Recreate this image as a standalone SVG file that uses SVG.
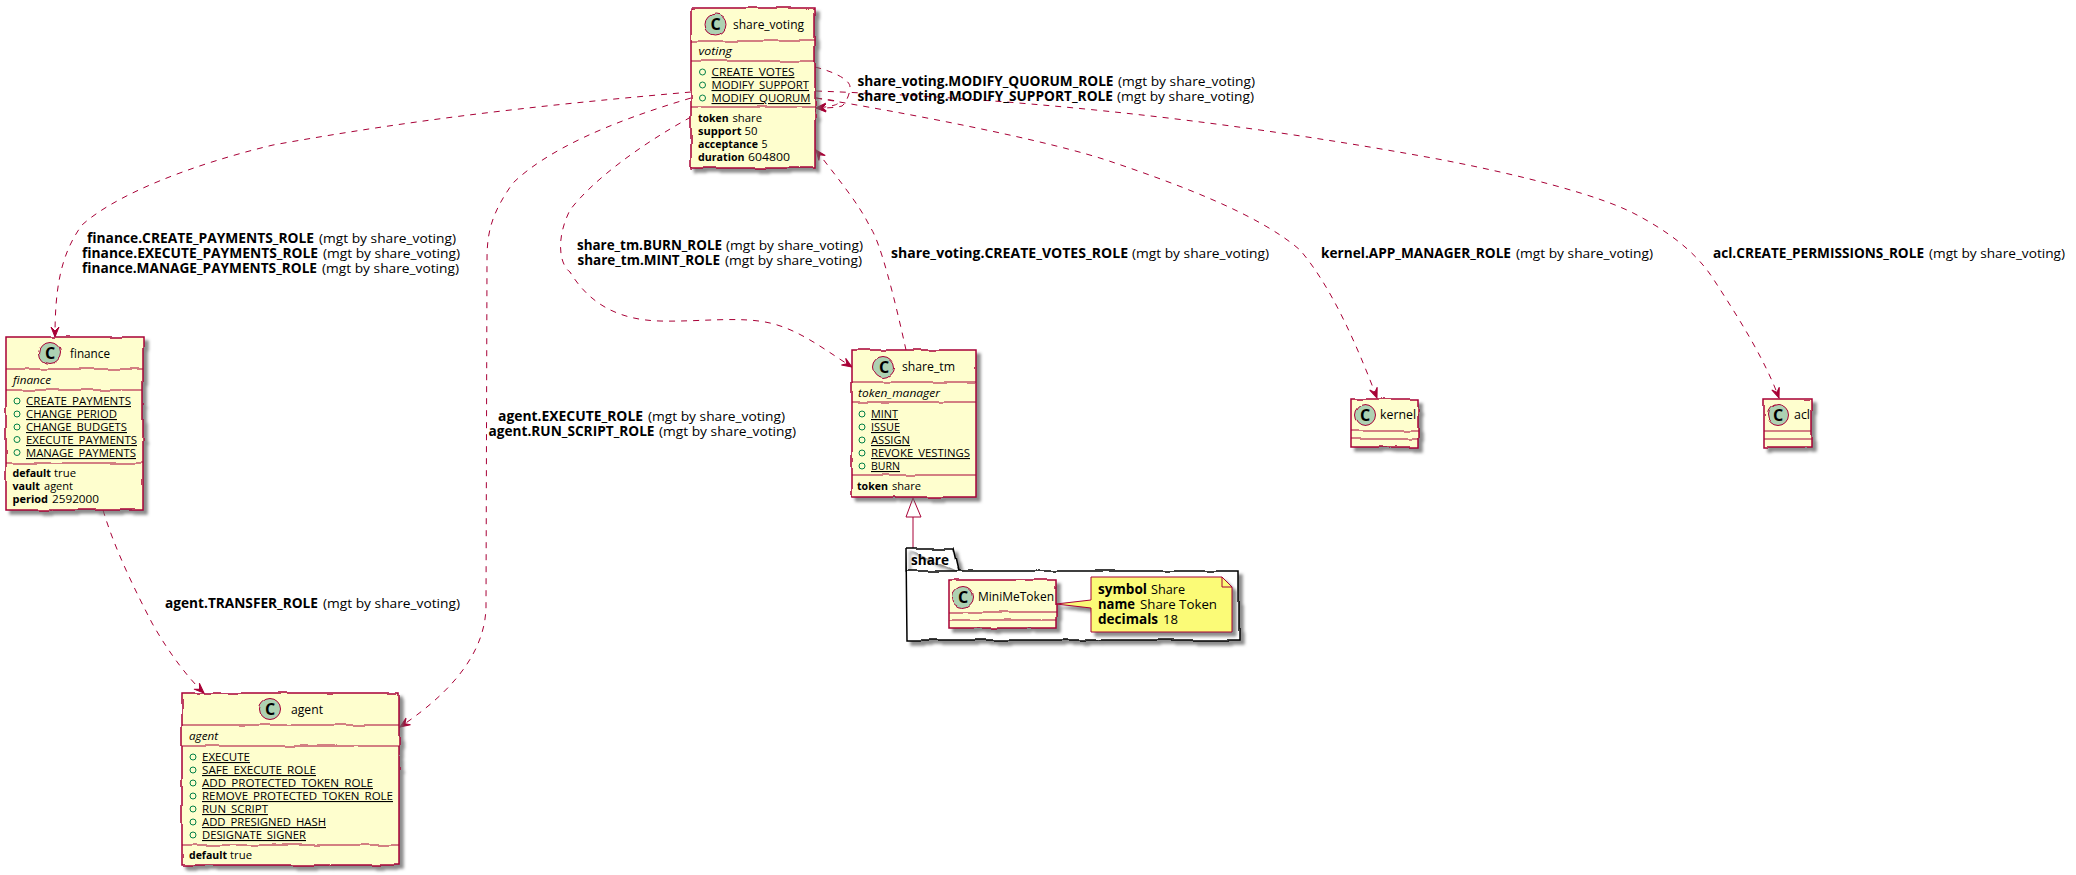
<svg xmlns="http://www.w3.org/2000/svg" width="2076" height="875" viewBox="0 0 2076 875">
<style>
text{font-family:"Open Sans","Noto Sans","DejaVu Sans",sans-serif;fill:#000}
.m{font-size:11px}
.t{font-size:13px}
.l{font-size:13.5px}
.b{font-weight:700}
.i{font-style:italic}
.u{text-decoration:underline}
.box{fill:#FEFECE;stroke:#A80036;stroke-width:1.5}
.sep{fill:none;stroke:#A80036;stroke-width:1.2}
.cir{fill:#ADD1B2;stroke:#A80036;stroke-width:1}
.vis{fill:none;stroke:#038048;stroke-width:1}
.C{font-size:16px;font-weight:700;text-anchor:middle}
.pk{fill:#fff;stroke:#000;stroke-width:1.5}
.nt{fill:#FBFB77;stroke:#A80036;stroke-width:1}
.d{fill:none;stroke:#A80036;stroke-width:1;stroke-dasharray:6 6;marker-end:url(#a)}
.s{fill:none;stroke:#A80036;stroke-width:1}
</style>
<defs>
<marker id="a" markerUnits="userSpaceOnUse" markerWidth="14" markerHeight="12" refX="12" refY="6" orient="auto" overflow="visible"><path d="M12,6 L2,2 L6,6 L2,10 Z" fill="#A80036" stroke="#A80036"/></marker>
<filter id="h" x="-15%" y="-15%" width="135%" height="135%" color-interpolation-filters="sRGB">
<feTurbulence type="fractalNoise" baseFrequency="0.04" numOctaves="2" seed="4" result="n"/>
<feDisplacementMap in="SourceGraphic" in2="n" scale="3.5" xChannelSelector="R" yChannelSelector="G" result="d"/>
<feGaussianBlur in="d" stdDeviation="1.6"/><feOffset dx="4" dy="4"/>
<feColorMatrix type="matrix" values="0 0 0 0 .4 0 0 0 0 .4 0 0 0 0 .4 0 0 0 .75 0" result="sh"/>
<feMerge><feMergeNode in="sh"/><feMergeNode in="d"/></feMerge>
</filter>
<filter id="sd" x="-10%" y="-15%" width="125%" height="135%" color-interpolation-filters="sRGB">
<feGaussianBlur in="SourceAlpha" stdDeviation="1.6"/><feOffset dx="4" dy="4"/>
<feColorMatrix type="matrix" values="0 0 0 0 .4 0 0 0 0 .4 0 0 0 0 .4 0 0 0 .75 0" result="sh"/>
<feMerge><feMergeNode in="sh"/><feMergeNode in="SourceGraphic"/></feMerge>
</filter>
</defs>
<rect width="2076" height="875" fill="#fff"/>

<g id="connectors">
<path class="d" d="M691,92 C520,107 407,121 273,145 C190,165 115,195 82,225 C60,255 55,290 55,337"/>
<path class="d" d="M691,98 C610,122 547,150 513,183 C490,215 487,235 487,260 L486,607 C485,660 440,700 400,727"/>
<path class="d" d="M691,117 C640,145 593,180 570,210 C555,240 560,265 570,272 C590,305 620,320 660,321 C700,322 740,316 770,323 C800,330 825,350 852,367"/>
<path class="d" d="M906,350 C895,300 880,240 870,227 C860,205 835,175 816,150"/>
<path class="d" d="M815,67 C835,72 850,80 850,87 C850,95 845,104 842,106 C835,108 825,108 816,108"/>
<path class="d" d="M816,98 C828,100 838,100 838,103 C838,105 828,107 816,108"/>
<path class="d" d="M816,91 C1000,98 1200,115 1443,160 C1520,175 1600,195 1637,215 C1665,230 1695,250 1714,280 C1740,320 1765,360 1779,398"/>
<path class="d" d="M816,98 C900,112 1050,140 1115,163 C1180,185 1260,215 1300,250 C1330,285 1355,340 1377,398"/>
<path class="d" d="M103,510 C115,550 135,590 152,623 C170,655 190,680 204,693"/>
<path class="s" d="M913,517 L913,549"/>
<path class="s" d="M913,498 L906,517 L921,517 Z" style="fill:#fff"/>
</g>

<g id="labels">
<text class="l" y="86"><tspan class="b" x="857.5" textLength="256" lengthAdjust="spacingAndGlyphs">share_voting.MODIFY_QUORUM_ROLE</tspan><tspan x="1118" textLength="137" lengthAdjust="spacingAndGlyphs">(mgt by share_voting)</tspan></text>
<text class="l" y="101"><tspan class="b" x="857.5" textLength="255.5" lengthAdjust="spacingAndGlyphs">share_voting.MODIFY_SUPPORT_ROLE</tspan><tspan x="1117" textLength="137" lengthAdjust="spacingAndGlyphs">(mgt by share_voting)</tspan></text>
<text class="l" y="243"><tspan class="b" x="87" textLength="227" lengthAdjust="spacingAndGlyphs">finance.CREATE_PAYMENTS_ROLE</tspan><tspan x="319" textLength="137" lengthAdjust="spacingAndGlyphs">(mgt by share_voting)</tspan></text>
<text class="l" y="258"><tspan class="b" x="82" textLength="236" lengthAdjust="spacingAndGlyphs">finance.EXECUTE_PAYMENTS_ROLE</tspan><tspan x="323" textLength="137" lengthAdjust="spacingAndGlyphs">(mgt by share_voting)</tspan></text>
<text class="l" y="273"><tspan class="b" x="82" textLength="235" lengthAdjust="spacingAndGlyphs">finance.MANAGE_PAYMENTS_ROLE</tspan><tspan x="322" textLength="137" lengthAdjust="spacingAndGlyphs">(mgt by share_voting)</tspan></text>
<text class="l" y="250"><tspan class="b" x="577" textLength="145" lengthAdjust="spacingAndGlyphs">share_tm.BURN_ROLE</tspan><tspan x="726" textLength="137" lengthAdjust="spacingAndGlyphs">(mgt by share_voting)</tspan></text>
<text class="l" y="265"><tspan class="b" x="577.5" textLength="142.5" lengthAdjust="spacingAndGlyphs">share_tm.MINT_ROLE</tspan><tspan x="725" textLength="137" lengthAdjust="spacingAndGlyphs">(mgt by share_voting)</tspan></text>
<text class="l" y="258"><tspan class="b" x="891" textLength="237" lengthAdjust="spacingAndGlyphs">share_voting.CREATE_VOTES_ROLE</tspan><tspan x="1132" textLength="137" lengthAdjust="spacingAndGlyphs">(mgt by share_voting)</tspan></text>
<text class="l" y="258"><tspan class="b" x="1321" textLength="190" lengthAdjust="spacingAndGlyphs">kernel.APP_MANAGER_ROLE</tspan><tspan x="1516" textLength="137" lengthAdjust="spacingAndGlyphs">(mgt by share_voting)</tspan></text>
<text class="l" y="258"><tspan class="b" x="1713" textLength="211" lengthAdjust="spacingAndGlyphs">acl.CREATE_PERMISSIONS_ROLE</tspan><tspan x="1929" textLength="136" lengthAdjust="spacingAndGlyphs">(mgt by share_voting)</tspan></text>
<text class="l" y="421"><tspan class="b" x="498" textLength="145" lengthAdjust="spacingAndGlyphs">agent.EXECUTE_ROLE</tspan><tspan x="648" textLength="137" lengthAdjust="spacingAndGlyphs">(mgt by share_voting)</tspan></text>
<text class="l" y="436"><tspan class="b" x="488.5" textLength="166" lengthAdjust="spacingAndGlyphs">agent.RUN_SCRIPT_ROLE</tspan><tspan x="659" textLength="137" lengthAdjust="spacingAndGlyphs">(mgt by share_voting)</tspan></text>
<text class="l" y="608"><tspan class="b" x="165" textLength="153" lengthAdjust="spacingAndGlyphs">agent.TRANSFER_ROLE</tspan><tspan x="323" textLength="137" lengthAdjust="spacingAndGlyphs">(mgt by share_voting)</tspan></text>
</g>

<g id="share_voting">
<g filter="url(#h)"><rect class="box" x="691" y="8" width="124" height="160"/><path class="sep" d="M691,41H815M691,61H815M691,107H815"/><circle class="cir" cx="715.5" cy="24.5" r="10.5"/></g>
<text class="C" x="715.5" y="30">C</text>
<text class="t" x="733" y="29" textLength="71" lengthAdjust="spacingAndGlyphs">share_voting</text>
<text class="m i" x="698.5" y="55" textLength="33.5" lengthAdjust="spacingAndGlyphs">voting</text>
<g class="vis"><circle cx="702.5" cy="72" r="3"/><circle cx="702.5" cy="85" r="3"/><circle cx="702.5" cy="98" r="3"/></g>
<text class="m u" x="711.5" y="76" textLength="83" lengthAdjust="spacingAndGlyphs">CREATE_VOTES</text>
<text class="m u" x="711.5" y="89" textLength="97.5" lengthAdjust="spacingAndGlyphs">MODIFY_SUPPORT</text>
<text class="m u" x="711.5" y="102" textLength="99" lengthAdjust="spacingAndGlyphs">MODIFY_QUORUM</text>
<text class="m" y="122"><tspan class="b" x="698" textLength="30.5" lengthAdjust="spacingAndGlyphs">token</tspan><tspan x="732.5" textLength="29.5" lengthAdjust="spacingAndGlyphs">share</tspan></text>
<text class="m" y="135"><tspan class="b" x="698" textLength="43.5" lengthAdjust="spacingAndGlyphs">support</tspan><tspan x="744.5" textLength="13" lengthAdjust="spacingAndGlyphs">50</tspan></text>
<text class="m" y="148"><tspan class="b" x="698" textLength="60" lengthAdjust="spacingAndGlyphs">acceptance</tspan><tspan x="761.5" textLength="6" lengthAdjust="spacingAndGlyphs">5</tspan></text>
<text class="m" y="161"><tspan class="b" x="698" textLength="46.5" lengthAdjust="spacingAndGlyphs">duration</tspan><tspan x="748" textLength="42" lengthAdjust="spacingAndGlyphs">604800</tspan></text>
</g>

<g id="finance">
<g filter="url(#h)"><rect class="box" x="6" y="337" width="137" height="173"/><path class="sep" d="M6,369H143M6,390H143M6,463H143"/><circle class="cir" cx="50" cy="353" r="10.5"/></g>
<text class="C" x="50" y="358.5">C</text>
<text class="t" x="70" y="358" textLength="40" lengthAdjust="spacingAndGlyphs">finance</text>
<text class="m i" x="13" y="384" textLength="38" lengthAdjust="spacingAndGlyphs">finance</text>
<g class="vis"><circle cx="17" cy="401" r="3"/><circle cx="17" cy="414" r="3"/><circle cx="17" cy="427" r="3"/><circle cx="17" cy="439.5" r="3"/><circle cx="17" cy="452.5" r="3"/></g>
<text class="m u" x="26" y="405" textLength="105" lengthAdjust="spacingAndGlyphs">CREATE_PAYMENTS</text>
<text class="m u" x="26" y="418" textLength="91" lengthAdjust="spacingAndGlyphs">CHANGE_PERIOD</text>
<text class="m u" x="26" y="431" textLength="101" lengthAdjust="spacingAndGlyphs">CHANGE_BUDGETS</text>
<text class="m u" x="26" y="444" textLength="111" lengthAdjust="spacingAndGlyphs">EXECUTE_PAYMENTS</text>
<text class="m u" x="26" y="457" textLength="110" lengthAdjust="spacingAndGlyphs">MANAGE_PAYMENTS</text>
<text class="m" y="477"><tspan class="b" x="12.5" textLength="38.5" lengthAdjust="spacingAndGlyphs">default</tspan><tspan x="54" textLength="22" lengthAdjust="spacingAndGlyphs">true</tspan></text>
<text class="m" y="490"><tspan class="b" x="12.5" textLength="27.5" lengthAdjust="spacingAndGlyphs">vault</tspan><tspan x="44" textLength="29" lengthAdjust="spacingAndGlyphs">agent</tspan></text>
<text class="m" y="503"><tspan class="b" x="12.5" textLength="35.5" lengthAdjust="spacingAndGlyphs">period</tspan><tspan x="52" textLength="47" lengthAdjust="spacingAndGlyphs">2592000</tspan></text>
</g>

<g id="agent">
<g filter="url(#h)"><rect class="box" x="182" y="693" width="217" height="172"/><path class="sep" d="M182,725H399M182,746H399M182,845H399"/><circle class="cir" cx="270" cy="709" r="10.5"/></g>
<text class="C" x="270" y="714.5">C</text>
<text class="t" x="291" y="714" textLength="32" lengthAdjust="spacingAndGlyphs">agent</text>
<text class="m i" x="189" y="740" textLength="29" lengthAdjust="spacingAndGlyphs">agent</text>
<g class="vis"><circle cx="193" cy="757" r="3"/><circle cx="193" cy="770" r="3"/><circle cx="193" cy="783" r="3"/><circle cx="193" cy="796" r="3"/><circle cx="193" cy="809" r="3"/><circle cx="193" cy="822" r="3"/><circle cx="193" cy="835" r="3"/></g>
<text class="m u" x="202" y="761" textLength="48" lengthAdjust="spacingAndGlyphs">EXECUTE</text>
<text class="m u" x="202" y="774" textLength="114" lengthAdjust="spacingAndGlyphs">SAFE_EXECUTE_ROLE</text>
<text class="m u" x="202" y="787" textLength="171" lengthAdjust="spacingAndGlyphs">ADD_PROTECTED_TOKEN_ROLE</text>
<text class="m u" x="202" y="800" textLength="191" lengthAdjust="spacingAndGlyphs">REMOVE_PROTECTED_TOKEN_ROLE</text>
<text class="m u" x="202" y="813" textLength="66" lengthAdjust="spacingAndGlyphs">RUN_SCRIPT</text>
<text class="m u" x="202" y="826" textLength="124" lengthAdjust="spacingAndGlyphs">ADD_PRESIGNED_HASH</text>
<text class="m u" x="202" y="839" textLength="104" lengthAdjust="spacingAndGlyphs">DESIGNATE_SIGNER</text>
<text class="m" y="859"><tspan class="b" x="189" textLength="38" lengthAdjust="spacingAndGlyphs">default</tspan><tspan x="230" textLength="22" lengthAdjust="spacingAndGlyphs">true</tspan></text>
</g>

<g id="share_tm">
<g filter="url(#h)"><rect class="box" x="852" y="350" width="124" height="147"/><path class="sep" d="M852,382H976M852,402H976M852,475H976"/><circle class="cir" cx="884" cy="367" r="10.5"/></g>
<text class="C" x="884" y="372.5">C</text>
<text class="t" x="902" y="371" textLength="53" lengthAdjust="spacingAndGlyphs">share_tm</text>
<text class="m i" x="858" y="397" textLength="82" lengthAdjust="spacingAndGlyphs">token_manager</text>
<g class="vis"><circle cx="862" cy="414" r="3"/><circle cx="862" cy="427" r="3"/><circle cx="862" cy="440" r="3"/><circle cx="862" cy="453" r="3"/><circle cx="862" cy="466" r="3"/></g>
<text class="m u" x="871" y="418" textLength="27" lengthAdjust="spacingAndGlyphs">MINT</text>
<text class="m u" x="871" y="431" textLength="29" lengthAdjust="spacingAndGlyphs">ISSUE</text>
<text class="m u" x="871" y="444" textLength="39" lengthAdjust="spacingAndGlyphs">ASSIGN</text>
<text class="m u" x="871" y="457" textLength="99" lengthAdjust="spacingAndGlyphs">REVOKE_VESTINGS</text>
<text class="m u" x="871" y="470" textLength="29" lengthAdjust="spacingAndGlyphs">BURN</text>
<text class="m" y="490"><tspan class="b" x="857" textLength="31" lengthAdjust="spacingAndGlyphs">token</tspan><tspan x="892" textLength="29" lengthAdjust="spacingAndGlyphs">share</tspan></text>
</g>

<g id="share">
<g filter="url(#h)"><path class="pk" d="M906,549 H953 L958,571 H1239 V640 H907 Z M906,549 V571 H958"/></g>
<text class="b" x="911" y="565" font-size="15" textLength="38" lengthAdjust="spacingAndGlyphs">share</text>
</g>

<g id="MiniMeToken">
<g filter="url(#h)"><rect class="box" x="949" y="580" width="107" height="48"/><path class="sep" d="M949,612H1056M949,620H1056"/><circle class="cir" cx="963" cy="597" r="10.5"/></g>
<text class="C" x="963" y="602.5">C</text>
<text class="t" x="978" y="601" textLength="76" lengthAdjust="spacingAndGlyphs">MiniMeToken</text>
</g>

<g id="note">
<g filter="url(#sd)"><path class="nt" d="M1056,604 L1091,600 V577 H1222 L1232,587 V632 H1091 V608 Z"/></g>
<path class="s" d="M1222,577 V587 H1232"/>
<text class="l" y="594"><tspan class="b" x="1098" textLength="49" lengthAdjust="spacingAndGlyphs">symbol</tspan><tspan x="1151" textLength="34" lengthAdjust="spacingAndGlyphs">Share</tspan></text>
<text class="l" y="609"><tspan class="b" x="1098" textLength="37" lengthAdjust="spacingAndGlyphs">name</tspan><tspan x="1140" textLength="77" lengthAdjust="spacingAndGlyphs">Share Token</tspan></text>
<text class="l" y="624"><tspan class="b" x="1098" textLength="60" lengthAdjust="spacingAndGlyphs">decimals</tspan><tspan x="1163" textLength="15" lengthAdjust="spacingAndGlyphs">18</tspan></text>
</g>

<g id="kernel">
<g filter="url(#h)"><rect class="box" x="1351" y="399" width="67" height="48"/><path class="sep" d="M1351,431H1418M1351,439H1418"/><circle class="cir" cx="1365" cy="415" r="10.5"/></g>
<text class="C" x="1365" y="420.5">C</text>
<text class="t" x="1380" y="419" textLength="36" lengthAdjust="spacingAndGlyphs">kernel</text>
</g>

<g id="acl">
<g filter="url(#h)"><rect class="box" x="1764" y="399" width="48" height="48"/><path class="sep" d="M1764,431H1812M1764,439H1812"/><circle class="cir" cx="1778" cy="415" r="10.5"/></g>
<text class="C" x="1778" y="420.5">C</text>
<text class="t" x="1794" y="419" textLength="16" lengthAdjust="spacingAndGlyphs">acl</text>
</g>
</svg>
